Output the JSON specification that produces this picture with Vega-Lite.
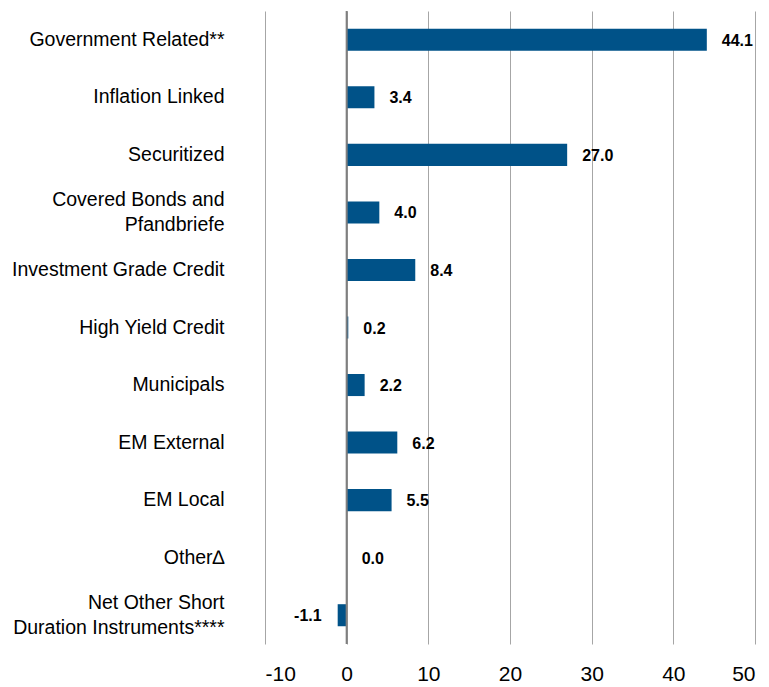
{
  "$schema": "https://vega.github.io/schema/vega-lite/v6.json",
  "width": 490,
  "height": 633,
  "autosize": "none",
  "padding": {"left": 265, "top": 11, "right": 14, "bottom": 43},
  "background": "white",
  "config": {
    "view": {"stroke": null},
    "font": "Liberation Sans, Arial, sans-serif"
  },
  "data": {
    "values": [
      {"category": "Government Related**", "value": 44.1, "lbl": "44.1"},
      {"category": "Inflation Linked", "value": 3.4, "lbl": "3.4"},
      {"category": "Securitized", "value": 27.0, "lbl": "27.0"},
      {"category": "Covered Bonds and|Pfandbriefe", "value": 4.0, "lbl": "4.0"},
      {"category": "Investment Grade Credit", "value": 8.4, "lbl": "8.4"},
      {"category": "High Yield Credit", "value": 0.2, "lbl": "0.2"},
      {"category": "Municipals", "value": 2.2, "lbl": "2.2"},
      {"category": "EM External", "value": 6.2, "lbl": "6.2"},
      {"category": "EM Local", "value": 5.5, "lbl": "5.5"},
      {"category": "Other∆", "value": 0.0, "lbl": "0.0"},
      {"category": "Net Other Short|Duration Instruments****", "value": -1.1, "lbl": "-1.1"}
    ]
  },
  "encoding": {
    "y": {
      "field": "category",
      "type": "nominal",
      "sort": null,
      "scale": {"paddingInner": 0.617, "paddingOuter": 0.3085},
      "axis": {
        "title": null,
        "domain": false,
        "ticks": false,
        "labelPadding": 41,
        "labelFontSize": 19.5,
        "labelColor": "#000000",
        "labelLineHeight": 25,
        "labelLimit": 300,
        "labelExpr": "split(datum.label, '|')",
        "labelOffset": {"condition": {"test": "indexof(datum.value, '|') >= 0", "value": -12.5}, "value": 0}
      }
    }
  },
  "layer": [
    {
      "mark": {"type": "bar", "color": "#005288"},
      "encoding": {
        "x": {
          "field": "value",
          "type": "quantitative",
          "scale": {"domain": [-10, 50], "nice": false, "zero": false},
          "axis": {
            "title": null,
            "values": [-10, 0, 10, 20, 30, 40, 50],
            "domain": false,
            "ticks": false,
            "grid": true,
            "gridColor": "#a6a6a6",
            "gridWidth": 1,
            "labelFontSize": 21,
            "labelColor": "#000000",
            "labelPadding": 19,
            "labelExpr": "'' + datum.value"
          }
        }
      }
    },
    {
      "data": {"values": [{"z": 0}]},
      "mark": {"type": "rule", "color": "#7f7f7f", "strokeWidth": 2},
      "encoding": {"x": {"field": "z", "type": "quantitative"}, "y": null}
    },
    {
      "transform": [{"filter": "datum.value >= 0"}],
      "mark": {"type": "text", "align": "left", "dx": 15, "dy": 1, "fontSize": 16, "fontWeight": "bold", "color": "#000000"},
      "encoding": {
        "x": {"field": "value", "type": "quantitative"},
        "text": {"field": "lbl"}
      }
    },
    {
      "transform": [{"filter": "datum.value < 0"}],
      "mark": {"type": "text", "align": "right", "dx": -16, "dy": 1, "fontSize": 16, "fontWeight": "bold", "color": "#000000"},
      "encoding": {
        "x": {"field": "value", "type": "quantitative"},
        "text": {"field": "lbl"}
      }
    }
  ]
}
